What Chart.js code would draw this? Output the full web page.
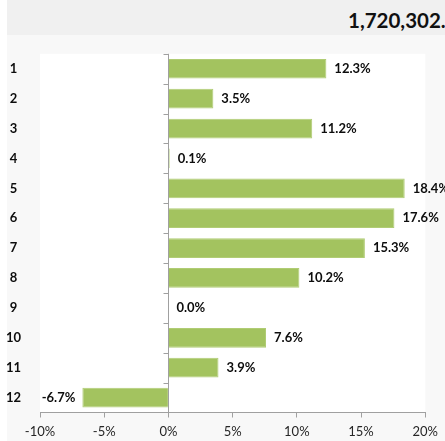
<!DOCTYPE html>
<html>
<head>
<meta charset="utf-8">
<script src="https://cdn.jsdelivr.net/npm/chart.js@4.4.1/dist/chart.umd.min.js"></script>
<style>
  html, body { margin: 0; padding: 0; background: #ffffff; width: 445px; height: 441px; overflow: hidden; }
  #band { position: absolute; left: 7px; top: 0; width: 438px; height: 35px; background: #f0f0f0; overflow: hidden; }
  #total { position: absolute; left: 341px; top: 8px; font: bold 20.5px Lato, sans-serif; color: #111; white-space: nowrap; }
  #wrap { position: absolute; left: 7px; top: 35px; width: 438px; height: 406px; background: #f8f8f8; }
</style>
</head>
<body>
<div id="band"><div id="total">1,720,302.5</div></div>
<div id="wrap"><canvas id="growth"></canvas></div>
<script>
const months = ['1', '2', '3', '4', '5', '6', '7', '8', '9', '10', '11', '12'];
const growth = [12.3, 3.5, 11.2, 0.1, 18.4, 17.6, 15.3, 10.2, 0.0, 7.6, 3.9, -6.7];
const xTicks = [-10, -5, 0, 5, 10, 15, 20];

const axisGray = '#a0a0a0';

// white plot background, zero line with small ticks, and value labels
const plotExtras = {
    id: 'plotExtras',
    beforeDraw: function (chart) {
        const a = chart.chartArea;
        const ctx = chart.ctx;
        ctx.save();
        ctx.fillStyle = '#ffffff';
        ctx.fillRect(a.left, a.top, a.right - a.left, a.bottom - a.top);
        ctx.restore();
    },
    afterDatasetsDraw: function (chart) {
        const a = chart.chartArea;
        const ctx = chart.ctx;
        const x0 = Math.round(chart.scales.x.getPixelForValue(0)) + 0.5;
        ctx.save();
        ctx.strokeStyle = axisGray;
        ctx.lineWidth = 1;
        ctx.beginPath();
        ctx.moveTo(x0, a.top);
        ctx.lineTo(x0, a.bottom);
        const step = (a.bottom - a.top) / months.length;
        for (let i = 0; i < months.length; i++) {
            const y = Math.round(a.top + i * step) + 0.5;
            ctx.moveTo(x0 - 5, y);
            ctx.lineTo(x0, y);
        }
        ctx.stroke();

        ctx.font = 'bold 13px Lato, sans-serif';
        ctx.fillStyle = '#0d0d0d';
        ctx.textBaseline = 'middle';
        chart.getDatasetMeta(0).data.forEach(function (bar, i) {
            const v = growth[i];
            const text = v.toFixed(1) + '%';
            if (v < 0) {
                ctx.textAlign = 'right';
                ctx.fillText(text, bar.x - 7, bar.y);
            } else {
                ctx.textAlign = 'left';
                ctx.fillText(text, bar.x + 8, bar.y);
            }
        });
        ctx.restore();
    }
};

new Chart(document.getElementById('growth').getContext('2d'), {
    type: 'bar',
    data: {
        labels: months,
        datasets: [{
            data: growth,
            backgroundColor: '#a3c35f',
            borderColor: '#b0cc74',
            borderWidth: 1,
            barPercentage: 0.66,
            categoryPercentage: 1
        }]
    },
    options: {
        indexAxis: 'y',
        responsive: true,
        maintainAspectRatio: false,
        animation: false,
        layout: { padding: { left: 0, right: 15, top: 5.5, bottom: 0 } },
        plugins: {
            legend: { display: false },
            tooltip: { enabled: false }
        },
        scales: {
            x: {
                min: -10,
                max: 20,
                afterBuildTicks: function (scale) {
                    scale.ticks = xTicks.map(function (v) { return { value: v }; });
                },
                afterFit: function (scale) { scale.height = 28.5; },
                grid: {
                    drawOnChartArea: false,
                    drawTicks: true,
                    tickLength: 5,
                    color: axisGray
                },
                border: { color: axisGray },
                ticks: {
                    padding: 7,
                    color: '#262626',
                    font: { family: 'Lato', size: 13 },
                    callback: function (v) { return v + '%'; }
                }
            },
            y: {
                afterFit: function (scale) { scale.width = 33; },
                grid: { display: false },
                border: { display: false },
                ticks: {
                    crossAlign: 'center',
                    padding: 11,
                    color: '#0d0d0d',
                    font: { family: 'Lato', size: 13, weight: 'bold' }
                }
            }
        }
    },
    plugins: [plotExtras]
});
</script>
</body>
</html>
